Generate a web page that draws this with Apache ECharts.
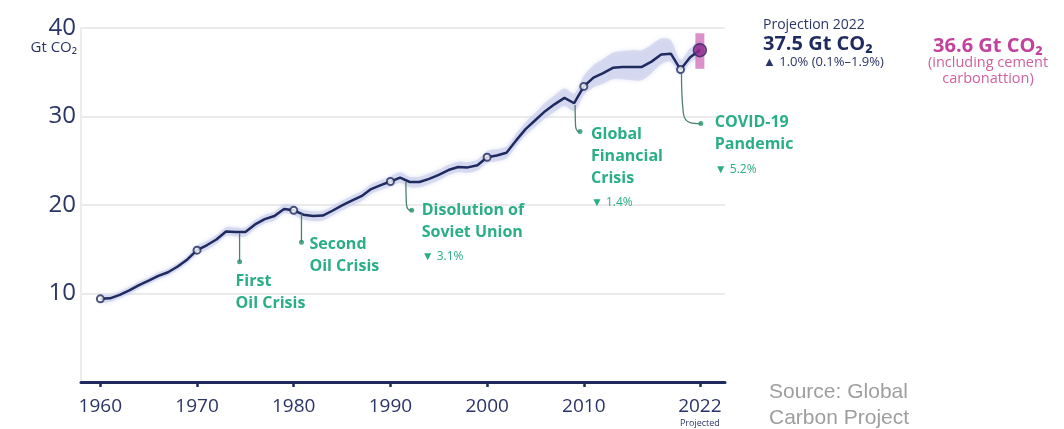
<!DOCTYPE html>
<html><head><meta charset="utf-8">
<script src="https://cdn.jsdelivr.net/npm/echarts@6/dist/echarts.min.js"></script>
<style>html,body{margin:0;padding:0;background:#fff;}#c{width:1064px;height:429px;}</style>
</head><body><div id="c"></div>
<script>
// ---------- DATA ----------
const years = [1960,1961,1962,1963,1964,1965,1966,1967,1968,1969,
  1970,1971,1972,1973,1974,1975,1976,1977,1978,1979,
  1980,1981,1982,1983,1984,1985,1986,1987,1988,1989,
  1990,1991,1992,1993,1994,1995,1996,1997,1998,1999,
  2000,2001,2002,2003,2004,2005,2006,2007,2008,2009,
  2010,2011,2012,2013,2014,2015,2016,2017,2018,2019,
  2020,2021,2022];
const emissions = [9.4,9.45,9.85,10.35,10.95,11.45,12.0,12.4,13.05,13.85,
  14.9,15.45,16.1,17.0,16.95,16.95,17.8,18.4,18.75,19.55,
  19.4,18.9,18.75,18.8,19.35,19.95,20.5,21.0,21.8,22.25,
  22.65,23.1,22.6,22.6,22.95,23.4,23.95,24.3,24.25,24.5,
  25.4,25.6,25.9,27.3,28.6,29.6,30.6,31.4,32.1,31.5,
  33.4,34.4,34.9,35.5,35.6,35.6,35.6,36.2,37.0,37.1,
  35.3,36.7,37.5];
const bandUp = [0.4,0.4,0.4,0.4,0.4,0.4,0.4,0.4,0.4,0.4,
  0.5,0.5,0.5,0.5,0.5,0.5,0.5,0.5,0.5,0.5,
  0.55,0.55,0.55,0.55,0.55,0.55,0.55,0.55,0.55,0.55,
  0.6,0.6,0.6,0.6,0.6,0.6,0.6,0.6,0.6,0.6,
  0.7,0.7,0.7,0.75,0.8,0.85,0.95,1.0,1.05,1.1,
  1.2,1.4,1.6,1.7,1.8,1.9,1.9,1.9,1.8,1.5,
  1.1,1.0,1.0];
const bandDown = [0.4,0.4,0.4,0.4,0.4,0.4,0.4,0.4,0.4,0.4,
  0.5,0.5,0.5,0.5,0.5,0.5,0.5,0.5,0.5,0.5,
  0.55,0.55,0.55,0.55,0.55,0.55,0.55,0.55,0.55,0.55,
  0.6,0.6,0.6,0.6,0.6,0.6,0.6,0.6,0.6,0.6,
  0.65,0.65,0.65,0.7,0.7,0.75,0.8,0.85,0.9,0.9,
  1.0,1.1,1.2,1.3,1.4,1.5,1.5,1.3,1.1,0.9,
  0.6,0.6,0.6];
const markerYears = [1960,1970,1980,1990,2000,2010,2020];
const projectionYear = 2022;
const projectionValue = 37.5;
const projectionRange = [35.4, 39.4];
const xTickValues = [1960,1970,1980,1990,2000,2010,2022];
const yTickValues = [10,20,30,40];
const annotationTitles = [['First','Oil Crisis'],['Second','Oil Crisis'],['Disolution of','Soviet Union'],['Global','Financial','Crisis'],['COVID-19','Pandemic']];
const annotationChanges = [null,null,'▼ 3.1%','▼ 1.4%','▼ 5.2%'];
const annotationFrom = [[1974.4,16.8],[1980.8,19.0],[1991.6,22.6],[2009.1,31.3],[2020.1,34.9]];
const annotationTo = [[1974.4,13.6],[1980.8,15.8],[1992.2,19.4],[2009.6,28.3],[2022.1,29.2]];
// ---------- STYLE ----------
const NAVY = '#1f2a5e', LABEL = '#2b3467', GREEN = '#2aae86', PINK = '#c2429c';
const textOffsets = [[-4,20],[8,2],[10,0],[11,3],[14,-1]];

const chart = echarts.init(document.getElementById('c'), null, {renderer:'canvas'});
const lineData = years.map((y,i)=>[y,emissions[i]]);
const bandData = years.map((y,i)=>[y, emissions[i]-bandDown[i], emissions[i]+bandUp[i]]);
const markerData = markerYears.map(y=>[y, emissions[years.indexOf(y)]]);

function renderBand(params, api){
  if (params.dataIndex !== 0) return null;
  const up = [], down = [];
  for (let i=0;i<bandData.length;i++){
    up.push(api.coord([bandData[i][0], bandData[i][2]]));
    down.push(api.coord([bandData[i][0], bandData[i][1]]));
  }
  const pts = up.concat(down.reverse());
  return {type:'polygon', shape:{points:pts, smooth:0.3}, style:{fill:'rgba(200,205,235,0.6)', shadowBlur:4, shadowColor:'rgba(200,205,235,0.8)'}};
}

// leader lines as line series (curved through a bend point near the end)
const connectorSeries = annotationFrom.map((f,i)=>{
  const t = annotationTo[i];
  const pts = (Math.abs(t[0]-f[0]) < 0.01) ? [f, t]
    : [f, [f[0]+0.1*(t[0]-f[0]), t[1]+0.2*(f[1]-t[1])], [f[0]+0.45*(t[0]-f[0]), t[1]+0.02*(f[1]-t[1])], t];
  return {type:'line', data:pts, symbol:'none', smooth:0.4, silent:true, z:6,
    lineStyle:{color:'#4d7f70', width:1.3}};
});

chart.setOption({
  animation:false,
  grid:{left:81, right:339, top:28, bottom:47},
  xAxis:{type:'value', min:1958, max:2024.6,
    splitLine:{show:false},
    axisLine:{lineStyle:{color:NAVY, width:3}},
    axisTick:{customValues:xTickValues, length:5, lineStyle:{color:NAVY, width:2.5}},
    axisLabel:{customValues:xTickValues, margin:15, color:LABEL, fontFamily:'Open Sans', fontSize:19,
      formatter:v=> v===2022 ? '{a|2022}\n{p|Projected}' : '{a|'+v+'}',
      rich:{a:{fontSize:19,lineHeight:20,color:LABEL,fontFamily:'Open Sans'},p:{fontSize:9,lineHeight:13,color:LABEL,fontFamily:'Open Sans'}}}
  },
  yAxis:{type:'value', min:0, max:40, interval:10,
    axisLine:{show:true, lineStyle:{color:'#ececec', width:2}},
    axisTick:{show:false},
    splitLine:{lineStyle:{color:'#ebebeb', width:2}},
    axisLabel:{margin:5, color:LABEL, fontFamily:'Open Sans', fontWeight:500, fontSize:24,
      formatter:v=> yTickValues.includes(v) ? String(v) : ''}
  },
  series:[
    {type:'custom', data:bandData, renderItem:renderBand, encode:{x:0, y:[1,2]}, silent:true, z:1, clip:false},
    {type:'line', data:[[projectionYear,projectionRange[0]],[projectionYear,projectionRange[1]]], symbol:'none',
      lineStyle:{width:9, color:'rgba(201,84,172,0.65)', cap:'butt'}, z:2},
    {type:'line', data:lineData, symbol:'none', lineStyle:{color:NAVY, width:2.5}, z:3},
    {type:'scatter', data:markerData, symbol:'circle', symbolSize:7, itemStyle:{color:'#fff', borderColor:NAVY, borderWidth:2}, z:4},
    {type:'scatter', data:[[projectionYear,projectionValue]], symbol:'circle', symbolSize:13, itemStyle:{color:'#8e2b8e', borderColor:'#2c2a5e', borderWidth:1.5}, z:5},
    {type:'scatter', data:annotationTo, symbol:'circle', symbolSize:5, silent:true, itemStyle:{color:'#23906e'}, z:7}
  ].concat(connectorSeries)
});

const px = p => chart.convertToPixel({xAxisIndex:0, yAxisIndex:0}, p);
const g = [];
annotationTitles.forEach((title,i)=>{
  const b = px(annotationTo[i]);
  let txt = title.map(t=>'{b|'+t+'}').join('\n');
  if (annotationChanges[i]) txt += '\n{s|'+annotationChanges[i]+'}';
  g.push({type:'text', x:b[0]+textOffsets[i][0], y:b[1]+textOffsets[i][1]-11, z:11,
    style:{text:txt, align:'left', verticalAlign:'top',
      rich:{b:{fontFamily:'Open Sans', fontWeight:'bold', fontSize:16, lineHeight:22, fill:GREEN},
            s:{fontFamily:'Open Sans', fontSize:12, lineHeight:27, fill:GREEN}}}});
});
const T = (x,y,text,size,color,weight,align,family)=>({type:'text', x, y, z:12,
  style:{text, fontSize:size, fill:color, fontWeight:weight||'normal', align:align||'left', verticalAlign:'middle', fontFamily:family||'Open Sans'}});
g.push(T(77,48,'Gt CO₂',15,LABEL,'normal','right'));
g.push(T(763,25,'Projection 2022',14,LABEL));
g.push(T(763,44,'37.5 Gt CO₂',20,NAVY,'bold'));
g.push(T(763,62,'▲ 1.0% (0.1%–1.9%)',13,LABEL));
g.push(T(988,46,'36.6 Gt CO₂',20,PINK,'bold','center'));
g.push(T(988,63,'(including cement',14.5,'#d0609f','normal','center'));
g.push(T(988,79,'carbonattion)',14.5,'#d0609f','normal','center'));
g.push(T(769,392,'Source: Global',21,'#9e9e9e','normal','left','Liberation Sans'));
g.push(T(769,418,'Carbon Project',21,'#9e9e9e','normal','left','Liberation Sans'));
chart.setOption({graphic:g});
</script></body></html>
